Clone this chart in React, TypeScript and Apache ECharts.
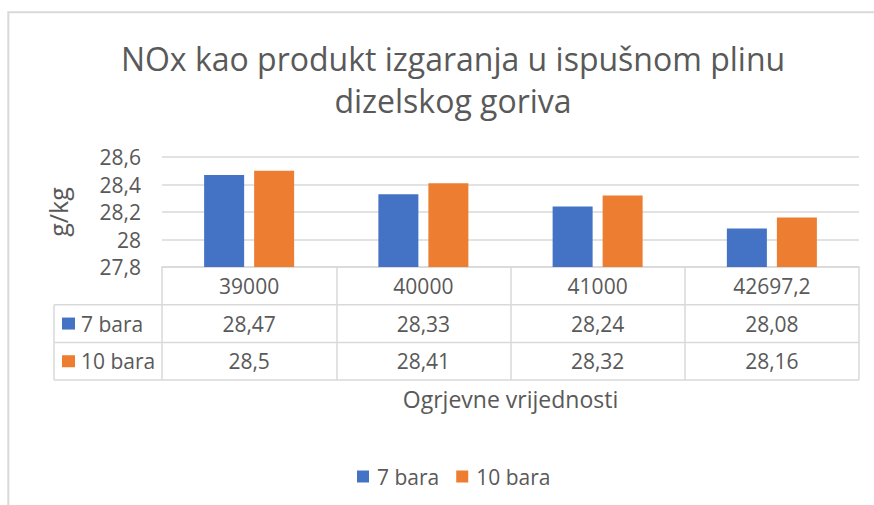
import React, { useEffect, useRef } from "react";
import * as echarts from "echarts";

const titleLines = ["NOx kao produkt izgaranja u ispušnom plinu", "dizelskog goriva"];
const categories = ["39000", "40000", "41000", "42697,2"];
const seriesNames = ["7 bara", "10 bara"];
const bara7 = [28.47, 28.33, 28.24, 28.08];
const bara10 = [28.5, 28.41, 28.32, 28.16];
const seriesValues = [bara7, bara10];
const colors = ["#4472C4", "#ED7D31"];
const yMin = 27.8;
const yMax = 28.6;
const yStep = 0.2;
const yName = "g/kg";
const xName = "Ogrjevne vrijednosti";

const FONT = "'Open Sans', sans-serif";
const TEXT = "#595959";
const LINE = "#D9D9D9";

const fmt = (v: number) => String(Number(v.toFixed(2))).replace(".", ",");

export default function App() {
  const ref = useRef<HTMLDivElement>(null);
  useEffect(() => {
    if (!ref.current) return;
    const chart = echarts.init(ref.current, undefined, { renderer: "svg" });

    const W = 874, H = 505;
    const gridLeft = 162, gridRight = 859, gridTop = 157, gridBottom = 267;
    const rowLH = 37.7;
    const tableLeft = 54;
    const rows = [gridBottom + rowLH, gridBottom + 2 * rowLH, gridBottom + 3 * rowLH];

    const graphics: any[] = [
      {
        type: "polyline",
        silent: true,
        shape: { points: [[8.3, H], [8.3, 12.3], [W, 12.3]] },
        style: { stroke: LINE, lineWidth: 2, fill: null },
      },
    ];
    rows.forEach((y) => {
      graphics.push({
        type: "line",
        silent: true,
        shape: { x1: tableLeft, y1: y, x2: gridRight, y2: y },
        style: { stroke: LINE, lineWidth: 1.5 },
      });
    });
    graphics.push({
      type: "line",
      silent: true,
      shape: { x1: tableLeft, y1: rows[0], x2: tableLeft, y2: rows[2] },
      style: { stroke: LINE, lineWidth: 1.5 },
    });
    seriesNames.forEach((name, i) => {
      const cy = rows[i] + rowLH / 2;
      graphics.push({
        type: "rect",
        silent: true,
        shape: { x: 62, y: cy - 6, width: 13, height: 12 },
        style: { fill: colors[i] },
      });
      graphics.push({
        type: "text",
        silent: true,
        x: 81,
        y: cy,
        style: {
          text: name,
          font: `21px ${FONT}`,
          fill: TEXT,
          textAlign: "left",
          textVerticalAlign: "middle",
        },
      });
    });

    chart.setOption({
      animation: false,
      backgroundColor: "#ffffff",
      title: {
        text: titleLines.join("\n"),
        left: 448,
        top: 32,
        textAlign: "center",
        textStyle: {
          fontFamily: FONT,
          fontSize: 32,
          fontWeight: "normal",
          color: TEXT,
          lineHeight: 42,
        },
      },
      legend: {
        data: seriesNames,
        left: 357,
        top: 466,
        padding: 0,
        icon: "rect",
        itemWidth: 12,
        itemHeight: 12,
        itemGap: 17,
        textStyle: { fontFamily: FONT, fontSize: 21, color: TEXT, padding: [0, 0, 0, 3] },
      },
      grid: {
        left: gridLeft,
        right: W - gridRight,
        top: gridTop,
        bottom: H - gridBottom,
        outerBoundsMode: "none",
      },
      xAxis: {
        type: "category",
        data: categories,
        name: xName,
        nameLocation: "middle",
        nameGap: 120,
        nameMoveOverlap: false,
        nameTextStyle: { fontFamily: FONT, fontSize: 23, color: TEXT },
        axisLine: { show: true, lineStyle: { color: LINE, width: 1.5 } },
        axisTick: { show: true, length: 3 * rowLH, lineStyle: { color: LINE, width: 1.5 } },
        axisLabel: {
          interval: 0,
          margin: 0,
          formatter: (value: string, idx: number) =>
            `{c|${value}}\n{c|${fmt(bara7[idx])}}\n{c|${fmt(bara10[idx])}}`,
          rich: {
            c: { fontFamily: FONT, fontSize: 21, color: TEXT, lineHeight: rowLH, align: "center" },
          },
        },
      },
      yAxis: {
        type: "value",
        min: yMin,
        max: yMax,
        interval: yStep,
        name: yName,
        nameLocation: "middle",
        nameRotate: 90,
        nameGap: 92,
        nameMoveOverlap: false,
        nameTextStyle: { fontFamily: FONT, fontSize: 25, color: TEXT },
        axisLine: { show: false },
        axisTick: { show: false },
        axisLabel: {
          margin: 21,
          fontFamily: FONT,
          fontSize: 21,
          color: TEXT,
          formatter: (v: number) => String(Number(v.toFixed(1))).replace(".", ","),
        },
        splitLine: { lineStyle: { color: LINE, width: 1.5 } },
      },
      series: seriesNames.map((name, i) => ({
        name,
        type: "bar",
        data: seriesValues[i],
        barWidth: 40,
        barGap: "25%",
        itemStyle: { color: colors[i] },
      })),
      graphic: graphics,
    });
    return () => chart.dispose();
  }, []);
  return (
    <div
      ref={ref}
      style={{ position: "fixed", left: 0, top: 0, width: 874, height: 505, background: "#fff" }}
    />
  );
}
